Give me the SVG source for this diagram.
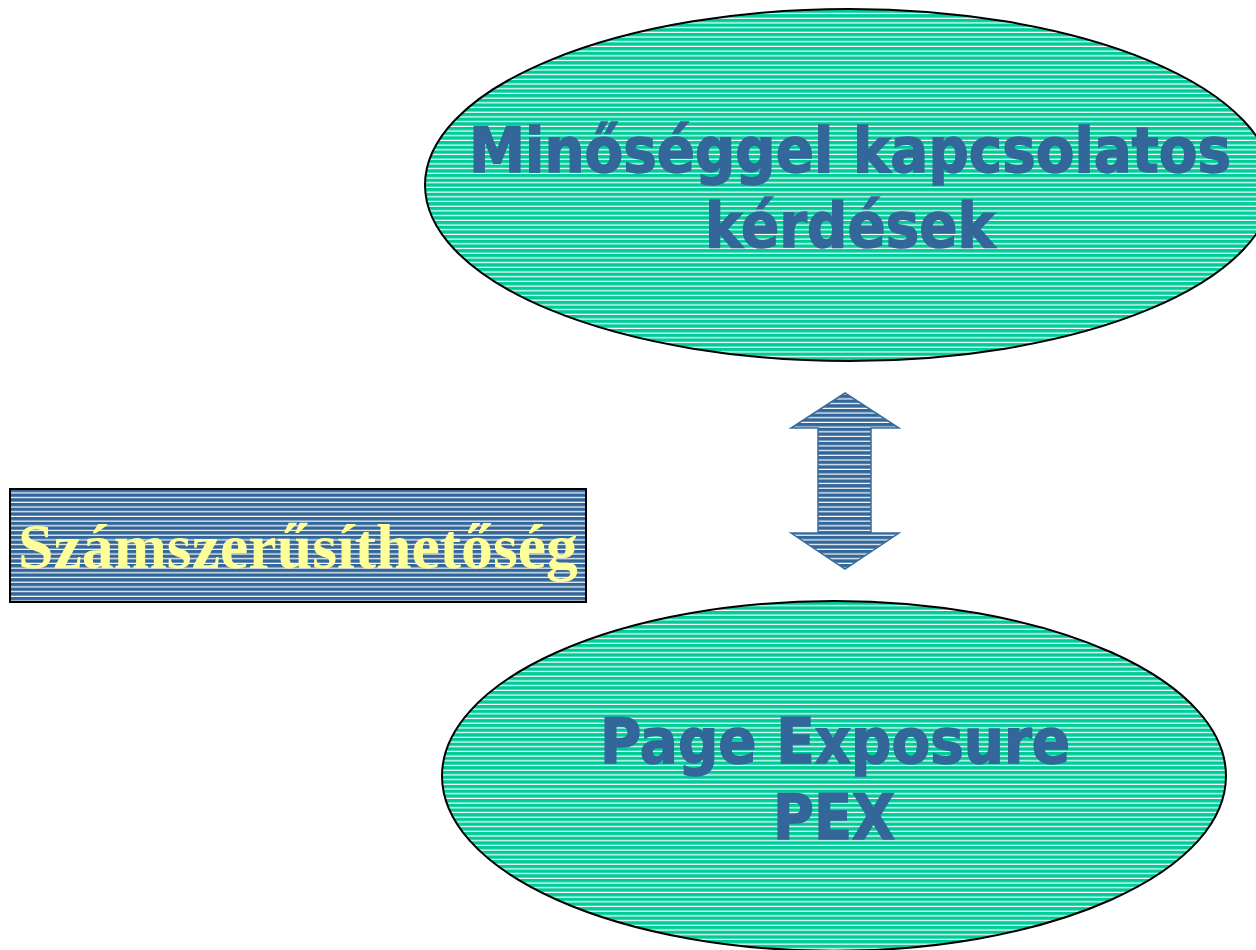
<svg xmlns="http://www.w3.org/2000/svg" width="1256" height="950" viewBox="0 0 1256 950">
<defs>
<pattern id="stripeG" patternUnits="userSpaceOnUse" width="20" height="4.7">
<rect width="20" height="4.7" fill="#00CC99"/>
<rect y="3.5" width="20" height="1.2" fill="#FFFFFF"/>
</pattern>
<pattern id="stripeB" patternUnits="userSpaceOnUse" width="20" height="4.7">
<rect width="20" height="4.7" fill="#336699"/>
<rect y="3.5" width="20" height="1.2" fill="#FFFFFF"/>
</pattern>
</defs>
<style>
.ell{fill:url(#stripeG);stroke:#000;stroke-width:2}
.lbl{font-family:"DejaVu Sans",Verdana,sans-serif;font-weight:bold;fill:#336699;stroke:#336699;stroke-width:1.5;text-anchor:middle}
.box{fill:url(#stripeB);stroke:#000;stroke-width:2}
.ylw{font-family:"Liberation Serif","Times New Roman",serif;font-weight:bold;fill:#FFFF99}
</style>
<rect width="1256" height="950" fill="#FFFFFF"/>
<g id="node-quality">
<ellipse class="ell" cx="849" cy="185" rx="424" ry="176"/>
<text class="lbl" x="850" y="172" font-size="62" textLength="762" lengthAdjust="spacingAndGlyphs">Minőséggel kapcsolatos</text>
<text class="lbl" x="850" y="247" font-size="62" textLength="290" lengthAdjust="spacingAndGlyphs">kérdések</text>
</g>
<g id="node-pex">
<ellipse class="ell" cx="834" cy="776" rx="392" ry="175"/>
<text class="lbl" x="835" y="763" font-size="62" textLength="470" lengthAdjust="spacingAndGlyphs">Page Exposure</text>
<text class="lbl" x="834" y="839" font-size="62" textLength="122" lengthAdjust="spacingAndGlyphs">PEX</text>
</g>
<g id="node-quant">
<rect class="box" x="10" y="489" width="576" height="113"/>
<text class="ylw" x="18" y="568" font-size="64" textLength="560" lengthAdjust="spacingAndGlyphs">Számszerűsíthetőség</text>
</g>
<g id="connectors">
<path d="M845,393 L899,428 L871,428 L871,533 L899,533 L845,569 L791,533 L818,533 L818,428 L791,428 Z" fill="url(#stripeB)" stroke="#3A6C9E" stroke-width="1.5"/>
</g>
</svg>
